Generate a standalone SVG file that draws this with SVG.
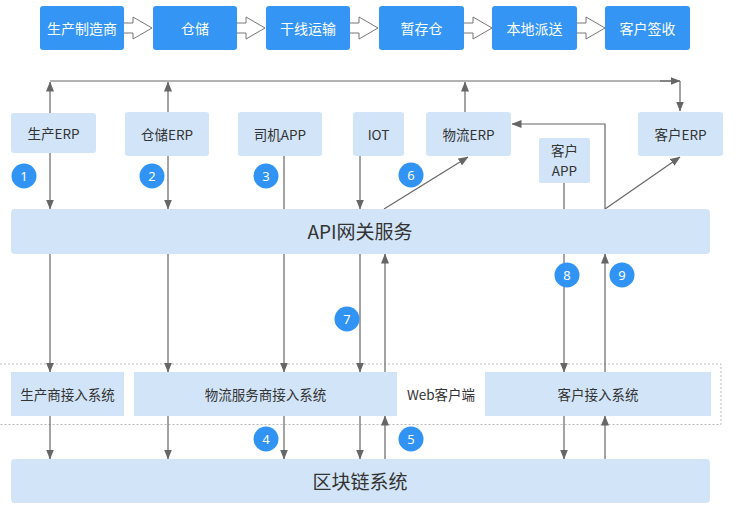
<svg xmlns="http://www.w3.org/2000/svg" width="735" height="512" viewBox="0 0 735 512">
<defs>
<style>
.top rect{fill:#3595f4;}
.top text{fill:#fff;font-family:"Noto Sans CJK SC","Liberation Sans",sans-serif;font-size:14px;text-anchor:middle;dominant-baseline:central;}
.lb rect{fill:#d2e5f8;}
.lb text{fill:#333;font-family:"Noto Sans CJK SC","Liberation Sans",sans-serif;font-size:13.5px;text-anchor:middle;dominant-baseline:central;}
.big text{font-size:19px;}
.num circle{fill:#3193f4;}
.num text{fill:#fff;font-family:"Noto Sans","Liberation Sans",sans-serif;font-size:13px;text-anchor:middle;dominant-baseline:central;}
.ln{stroke:#666;stroke-width:1.2;fill:none;}
.ha{fill:#fff;stroke:#777;stroke-width:1;}
</style>
<marker id="ah" markerWidth="10" markerHeight="8" refX="9.5" refY="4" orient="auto" markerUnits="userSpaceOnUse">
<path d="M0,0 L10,4 L0,8 Z" fill="#666"/>
</marker>
</defs>
<rect width="735" height="512" fill="#fff"/>

<g id="dashed-zone">
<path d="M0,364 H721 V424.5 H0" fill="none" stroke="#bbb" stroke-width="1" stroke-dasharray="2,2"/>
</g>

<g id="flow-arrows">
<path class="ha" d="M124,23 H133 V17 L152,28 L133,39 V33 H124"/>
<path class="ha" d="M237,23 H246 V17 L265,28 L246,39 V33 H237"/>
<path class="ha" d="M350,23 H359 V17 L378,28 L359,39 V33 H350"/>
<path class="ha" d="M464,23 H473 V17 L492,28 L473,39 V33 H464"/>
<path class="ha" d="M577,23 H586 V17 L605,28 L586,39 V33 H577"/>
</g>

<g id="top-row" class="top">
<g id="n-mfr"><rect x="40" y="6" width="84" height="44" rx="3"/><text x="82" y="27.5">生产制造商</text></g>
<g id="n-wh"><rect x="153" y="6" width="84" height="44" rx="3"/><text x="195" y="27.5">仓储</text></g>
<g id="n-trunk"><rect x="266" y="6" width="84" height="44" rx="3"/><text x="308" y="27.5">干线运输</text></g>
<g id="n-temp"><rect x="379" y="6" width="85" height="44" rx="3"/><text x="421.5" y="27.5">暂存仓</text></g>
<g id="n-local"><rect x="492" y="6" width="85" height="44" rx="3"/><text x="534.5" y="27.5">本地派送</text></g>
<g id="n-sign"><rect x="605" y="6" width="85" height="44" rx="3"/><text x="647.5" y="27.5">客户签收</text></g>
</g>

<g id="connectors">
<path class="ln" d="M50,81 H679"/>
<path class="ln" d="M50,113 V82" marker-end="url(#ah)"/>
<path class="ln" d="M168,112 V82" marker-end="url(#ah)"/>
<path class="ln" d="M465,112 V82" marker-end="url(#ah)"/>
<path class="ln" d="M660,81 H680" marker-end="url(#ah)"/>
<path class="ln" d="M680,81 V111" marker-end="url(#ah)"/>

<path class="ln" d="M50,153 V209" marker-end="url(#ah)"/>
<path class="ln" d="M168,156 V209" marker-end="url(#ah)"/>
<path class="ln" d="M360,156 V209" marker-end="url(#ah)"/>
<path class="ln" d="M384,209 L468,157" marker-end="url(#ah)"/>
<path class="ln" d="M605,209 V124 H512" marker-end="url(#ah)"/>
<path class="ln" d="M605,209 L680,157" marker-end="url(#ah)"/>

<path class="ln" d="M284,156 V372" marker-end="url(#ah)"/>
<path class="ln" d="M564,183 V372" marker-end="url(#ah)"/>

<path class="ln" d="M50,254 V372" marker-end="url(#ah)"/>
<path class="ln" d="M168,254 V372" marker-end="url(#ah)"/>
<path class="ln" d="M360,254 V372" marker-end="url(#ah)"/>
<path class="ln" d="M385,372 V254" marker-end="url(#ah)"/>
<path class="ln" d="M605,372 V254" marker-end="url(#ah)"/>

<path class="ln" d="M50,416 V459" marker-end="url(#ah)"/>
<path class="ln" d="M168,416 V459" marker-end="url(#ah)"/>
<path class="ln" d="M284,416 V459" marker-end="url(#ah)"/>
<path class="ln" d="M360,416 V459" marker-end="url(#ah)"/>
<path class="ln" d="M385,459 V416" marker-end="url(#ah)"/>
<path class="ln" d="M564,416 V459" marker-end="url(#ah)"/>
<path class="ln" d="M605,459 V416" marker-end="url(#ah)"/>
</g>

<g id="mid-row" class="lb">
<g id="n-prod-erp"><rect x="11" y="113" width="85" height="40" rx="3"/><text x="53.5" y="132.5">生产ERP</text></g>
<g id="n-wh-erp"><rect x="125" y="112" width="84" height="44" rx="3"/><text x="167" y="133.5">仓储ERP</text></g>
<g id="n-driver"><rect x="238" y="112" width="84" height="44" rx="3"/><text x="280" y="133.5">司机APP</text></g>
<g id="n-iot"><rect x="353" y="112" width="51" height="44" rx="3"/><text x="378.5" y="133.5">IOT</text></g>
<g id="n-log-erp"><rect x="426" y="112" width="85" height="44" rx="3"/><text x="468.5" y="133.5">物流ERP</text></g>
<g id="n-cust-app"><rect x="539" y="138" width="51" height="45" rx="2"/><text x="564.5" y="150" font-size="12.5">客户</text><text x="564.5" y="170" font-size="12.5">APP</text></g>
<g id="n-cust-erp"><rect x="638" y="112" width="85" height="44" rx="3"/><text x="680.5" y="133.5">客户ERP</text></g>
</g>

<g id="n-api" class="lb big"><rect x="11" y="209" width="699" height="45" rx="4"/><text x="360" y="230.5">API网关服务</text></g>

<g id="access-row" class="lb">
<g id="n-prod-acc"><rect x="11" y="372" width="113" height="44"/><text x="67.5" y="393.5">生产商接入系统</text></g>
<g id="n-log-acc"><rect x="134" y="372" width="263" height="44"/><text x="265.5" y="393.5">物流服务商接入系统</text></g>
<g id="n-cust-acc"><rect x="485" y="372" width="226" height="44"/><text x="598" y="393.5">客户接入系统</text></g>
<g id="n-web"><text x="441" y="393.5" fill="#555">Web客户端</text></g>
</g>

<g id="n-chain" class="lb big"><rect x="11" y="459" width="699" height="44" rx="4"/><text x="360" y="480">区块链系统</text></g>

<g id="numbers" class="num">
<g><circle cx="24" cy="176" r="12.5"/><text x="24" y="176">1</text></g>
<g><circle cx="152" cy="176" r="12.5"/><text x="152" y="176">2</text></g>
<g><circle cx="266" cy="176" r="12.5"/><text x="266" y="176">3</text></g>
<g><circle cx="266" cy="439" r="12.5"/><text x="266" y="439">4</text></g>
<g><circle cx="411" cy="439" r="12.5"/><text x="411" y="439">5</text></g>
<g><circle cx="411" cy="175" r="12.5"/><text x="411" y="175">6</text></g>
<g><circle cx="347" cy="319" r="12.5"/><text x="347" y="319">7</text></g>
<g><circle cx="567" cy="275" r="12.5"/><text x="567" y="275">8</text></g>
<g><circle cx="622" cy="275" r="12.5"/><text x="622" y="275">9</text></g>
</g>
</svg>
